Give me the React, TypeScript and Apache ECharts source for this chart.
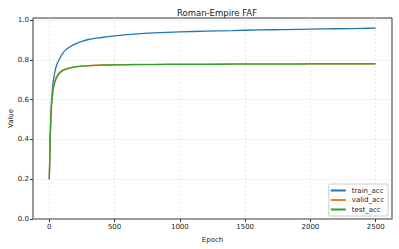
import React, { useEffect, useRef } from "react";
import * as echarts from "echarts";

const epochs = [0, 5, 10, 15, 20, 25, 30, 40, 50, 60, 75, 100, 125, 150, 200, 250, 300, 400, 500, 600, 700, 800, 1000, 1200, 1400, 1600, 1800, 2000, 2200, 2400, 2499];
const trainAcc = [0.2, 0.37, 0.49, 0.57, 0.62, 0.66, 0.69, 0.73, 0.76, 0.78, 0.8, 0.83, 0.85, 0.862, 0.88, 0.893, 0.902, 0.912, 0.92, 0.926, 0.931, 0.935, 0.94, 0.944, 0.947, 0.95, 0.952, 0.954, 0.956, 0.958, 0.959];
const validAcc = [0.2, 0.36, 0.48, 0.56, 0.6, 0.635, 0.66, 0.69, 0.71, 0.722, 0.735, 0.748, 0.755, 0.759, 0.766, 0.769, 0.771, 0.774, 0.775, 0.776, 0.777, 0.777, 0.778, 0.778, 0.779, 0.779, 0.779, 0.78, 0.78, 0.78, 0.78];
const testAcc = [0.2, 0.35, 0.47, 0.55, 0.59, 0.625, 0.65, 0.68, 0.70, 0.715, 0.73, 0.744, 0.752, 0.757, 0.764, 0.768, 0.77, 0.773, 0.774, 0.775, 0.776, 0.776, 0.777, 0.777, 0.778, 0.778, 0.778, 0.779, 0.779, 0.779, 0.779];
const xTicks = [0, 500, 1000, 1500, 2000, 2500];
const yTicks = [0, 0.2, 0.4, 0.6, 0.8, 1.0];

const FONT = "DejaVu Sans";

export default function App() {
  const ref = useRef<HTMLDivElement>(null);
  useEffect(() => {
    const chart = echarts.init(ref.current!, null, { renderer: "svg" });
    const mk = (arr: number[]) => epochs.map((e, i) => [e, arr[i]]);
    chart.setOption({
      animation: false,
      backgroundColor: "#fff",
      title: {
        text: "Roman-Empire FAF",
        left: 212,
        textAlign: "center",
        top: 3,
        textStyle: { fontFamily: FONT, fontSize: 8.5, fontWeight: "normal", color: "#222" },
      },
      grid: { left: 33, right: 7, top: 18, bottom: 30, show: true, borderColor: "#333", borderWidth: 1, backgroundColor: "transparent", outerBoundsMode: "none", containLabel: false },
      legend: {
        right: 11,
        bottom: 33,
        orient: "vertical",
        backgroundColor: "#fff",
        borderColor: "#ccc",
        borderWidth: 1,
        borderRadius: 2,
        padding: [3, 4, 3, 2],
        itemGap: 2.5,
        itemWidth: 15,
        itemHeight: 2,
        icon: "rect",
        textStyle: { fontFamily: FONT, fontSize: 7, color: "#222", padding: [0, 0, 0, 1] },
        data: ["train_acc", "valid_acc", "test_acc"],
      },
      xAxis: {
        type: "value",
        min: -125,
        max: 2625,
        name: "Epoch",
        nameLocation: "middle",
        nameGap: 17,
        nameMoveOverlap: false,
        nameTextStyle: { fontFamily: FONT, fontSize: 7, color: "#222" },
        axisLine: { show: true, onZero: false, lineStyle: { color: "#999", width: 1.5 } },
        axisTick: { show: true, customValues: xTicks, length: 3, lineStyle: { color: "#333" } },
        axisLabel: { customValues: xTicks, fontFamily: FONT, fontSize: 7, color: "#222", margin: 4, formatter: (v: number) => String(v) },
        splitLine: { show: true, lineStyle: { color: "#e3e3e3", type: [2, 2], width: 0.8 } },
      },
      yAxis: {
        type: "value",
        min: 0,
        max: 1.01,
        name: "Value",
        nameLocation: "middle",
        nameGap: 19,
        nameMoveOverlap: false,
        nameTextStyle: { fontFamily: FONT, fontSize: 7, color: "#222" },
        axisLine: { show: true, onZero: false, lineStyle: { color: "#999", width: 1.5 } },
        axisTick: { show: true, customValues: yTicks, length: 3, lineStyle: { color: "#333" } },
        axisLabel: { customValues: yTicks, fontFamily: FONT, fontSize: 7, color: "#222", margin: 4, formatter: (v: number) => v.toFixed(1) },
        splitLine: { show: true, lineStyle: { color: "#e3e3e3", type: [2, 2], width: 0.8 } },
      },
      series: [
        { name: "train_acc", type: "line", data: mk(trainAcc), showSymbol: false, smooth: 0.3, lineStyle: { color: "#1f77b4", width: 1.3 }, itemStyle: { color: "#1f77b4" } },
        { name: "valid_acc", type: "line", data: mk(validAcc), showSymbol: false, smooth: 0.3, lineStyle: { color: "#ff7f0e", width: 1.3 }, itemStyle: { color: "#ff7f0e" } },
        { name: "test_acc", type: "line", data: mk(testAcc), showSymbol: false, smooth: 0.3, lineStyle: { color: "#2ca02c", width: 1.3 }, itemStyle: { color: "#2ca02c" } },
      ],
    });
    return () => chart.dispose();
  }, []);
  return <div ref={ref} style={{ width: 399, height: 249, position: "absolute", left: 0, top: 0 }} />;
}
